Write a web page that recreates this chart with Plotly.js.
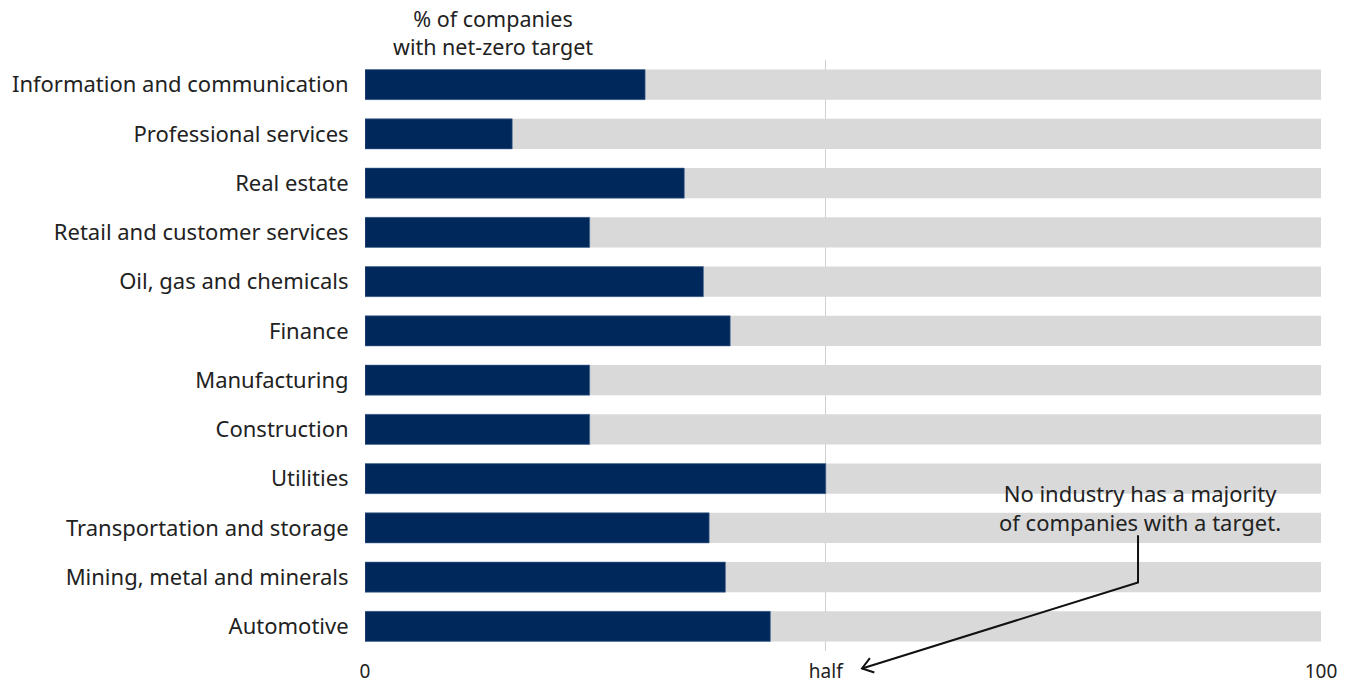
<!DOCTYPE html>
<html>
<head>
<meta charset="utf-8">
<script src="https://cdn.plot.ly/plotly-3.0.1.min.js"></script>
<style>html,body{margin:0;padding:0;background:#fff}#chart{width:1352px;height:684px}</style>
</head>
<body>
<div id="chart"></div>
<script>
const categories = [
  "Information and communication",
  "Professional services",
  "Real estate",
  "Retail and customer services",
  "Oil, gas and chemicals",
  "Finance",
  "Manufacturing",
  "Construction",
  "Utilities",
  "Transportation and storage",
  "Mining, metal and minerals",
  "Automotive"
];
const shareWithTarget = [29.3, 15.4, 33.4, 23.5, 35.4, 38.2, 23.5, 23.5, 48.2, 36.0, 37.7, 42.4];
const fullScale = [100, 100, 100, 100, 100, 100, 100, 100, 100, 100, 100, 100];
const tickValues = [0, 48.2, 100];
const tickLabels = ["0", "half", "100"];

const FONT = "Noto Sans, Open Sans, sans-serif";

const traces = [
  {
    type: "bar", orientation: "h",
    y: categories, x: fullScale,
    marker: {color: "#d9d9d9"},
    hoverinfo: "skip", showlegend: false
  },
  {
    type: "bar", orientation: "h",
    y: categories, x: shareWithTarget,
    marker: {color: "#00285a", line: {color: "#4a6a95", width: 0.6}},
    showlegend: false
  }
];

const layout = {
  width: 1352, height: 684,
  margin: {l: 365, r: 31, t: 60, b: 33},
  paper_bgcolor: "#fff", plot_bgcolor: "#fff",
  barmode: "overlay",
  bargap: 0.39,
  font: {family: FONT, size: 21, color: "#222"},
  xaxis: {
    range: [0, 100],
    tickvals: tickValues, ticktext: tickLabels,
    showgrid: true, gridcolor: "#d0d0d0", gridwidth: 1,
    zeroline: false, showline: false,
    ticks: "outside", ticklen: 3, tickcolor: "rgba(0,0,0,0)",
    tickfont: {family: FONT, size: 19, color: "#222"},
    fixedrange: true
  },
  yaxis: {
    type: "category",
    categoryorder: "array", categoryarray: categories,
    autorange: "reversed",
    showgrid: false, zeroline: false, showline: false,
    ticks: "outside", ticklen: 11, tickcolor: "rgba(0,0,0,0)",
    tickfont: {family: FONT, size: 22, color: "#222"},
    fixedrange: true
  },
  annotations: [
    {
      xref: "paper", yref: "paper", x: 0.1335, y: 1.0,
      xanchor: "center", yanchor: "bottom", yshift: -3,
      text: "% of companies<br>with net-zero target",
      showarrow: false, align: "center",
      font: {family: FONT, size: 21.5, color: "#222"}
    },
    {
      xref: "paper", yref: "paper", x: 0.811, y: 0.19,
      xanchor: "center", yanchor: "bottom",
      text: "No industry has a majority<br>of companies with a target.",
      showarrow: false, align: "center",
      font: {family: FONT, size: 22, color: "#222"}
    }
  ],
  shapes: [
    {
      type: "path", xref: "paper", yref: "paper",
      path: "M 0.8086,0.196 L 0.8086,0.116 L 0.5199,-0.0295",
      line: {color: "#111", width: 2}
    },
    {
      type: "path", xref: "paper", yref: "paper",
      path: "M 0.5328,-0.0363 L 0.5199,-0.0295 L 0.5281,-0.012",
      line: {color: "#111", width: 2}
    }
  ]
};

Plotly.newPlot("chart", traces, layout, {displayModeBar: false, staticPlot: true});
</script>
</body>
</html>
